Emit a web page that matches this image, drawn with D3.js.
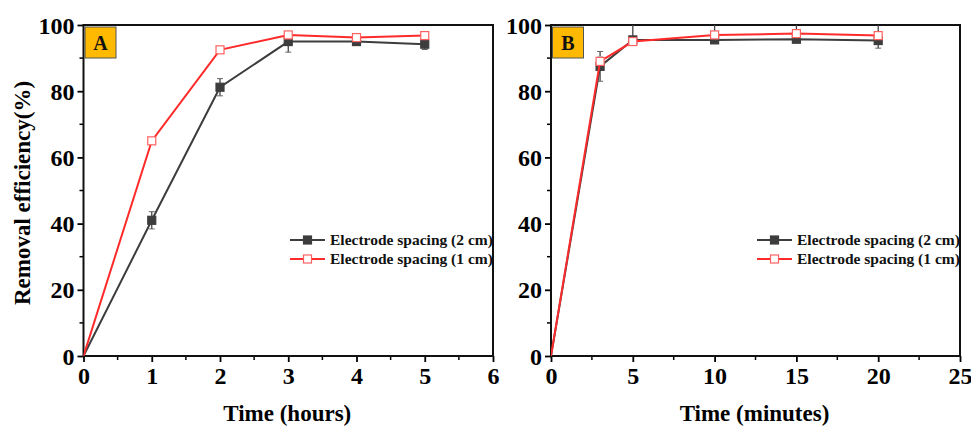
<!DOCTYPE html>
<html><head><meta charset="utf-8">
<script src="https://cdn.jsdelivr.net/npm/d3@7"></script>
<style>body{margin:0;background:#fff}svg{display:block}text{font-family:"Liberation Serif","Times New Roman",serif;font-weight:bold}</style>
</head><body><svg id="c" width="971" height="426"></svg>
<script>
// Panel A (hours)
const hoursX = [0,1,2,3,4,5];
const hours2cm = [0,41,81.2,95,95,94.2];
const hours2cmErrUp = [0,2.6,2.6,1.0,1.0,1.0];
const hours2cmErrDown = [0,2.6,2.6,3.2,1.2,1.6];
const hours1cm = [0,65,92.5,97,96.2,96.8];
const hours1cmErr = [0,0.8,0.8,1.0,0.8,0.8];
// Panel B (minutes)
const minX = [0,3,5,10,15,20];
const min2cm = [0,87.5,95.5,95.5,95.7,95.3];
const min2cmErrUp = [0,4.5,5,5,5,5];
const min2cmErrDown = [0,4.5,1.0,0.8,0.8,2.3];
const min1cm = [0,89,95,97,97.4,96.8];
const min1cmErr = [0,1.5,0.8,0.8,0.8,0.8];
const yTicks = [0,20,40,60,80,100];
const hourTicks = [0,1,2,3,4,5,6];
const minTicks = [0,5,10,15,20,25];
const seriesNames = ["Electrode spacing (2 cm)","Electrode spacing (1 cm)"];
const panelLabels = ["A","B"];

const svg = d3.select("#c");
const C2 = "#3d3d3d", C1 = "#ff2a2a";

function panel(cfg){
  const x = d3.scaleLinear().domain(cfg.xdom).range([cfg.left, cfg.right]);
  const y = d3.scaleLinear().domain([0,100]).range([356,25]);
  const g = svg.append("g");
  const clipId = "clip"+cfg.label;
  svg.append("clipPath").attr("id",clipId).append("rect")
    .attr("x",cfg.left).attr("y",25).attr("width",cfg.right-cfg.left).attr("height",331);
  const xMinor = d3.range(cfg.xdom[0]+cfg.minorStep, cfg.xdom[1], cfg.minorStep*2);
  g.selectAll(".xm").data(xMinor).join("line")
    .attr("x1",d=>x(d)).attr("x2",d=>x(d)).attr("y1",356).attr("y2",360)
    .attr("stroke","#000").attr("stroke-width",1.5);
  g.selectAll(".ym").data(d3.range(10,100,20)).join("line")
    .attr("y1",d=>y(d)).attr("y2",d=>y(d)).attr("x1",cfg.left).attr("x2",cfg.left-4)
    .attr("stroke","#000").attr("stroke-width",1.5);
  const xa = g.append("g").attr("transform","translate(0,356)")
    .call(d3.axisBottom(x).tickValues(cfg.ticks).tickSize(6).tickPadding(5).tickFormat(d3.format("d")));
  const ya = g.append("g").attr("transform",`translate(${cfg.left},0)`)
    .call(d3.axisLeft(y).tickValues(yTicks).tickSize(6).tickPadding(3).tickFormat(d3.format("d")));
  [xa,ya].forEach(a=>{
    a.select(".domain").remove();
    a.selectAll("line").attr("stroke","#000").attr("stroke-width",1.8);
    a.selectAll("text").attr("font-size",24).attr("fill","#000")
      .style("font-family",'"Liberation Serif",serif').style("font-weight","bold");
  });
  ya.selectAll("text").attr("dy","0.34em");
  xa.selectAll("text").attr("dy","0.72em");
  g.append("rect").attr("x",cfg.left).attr("y",25).attr("width",cfg.right-cfg.left).attr("height",331)
    .attr("fill","none").attr("stroke","#111").attr("stroke-width",2);
  const series = [
    {xs:cfg.xs, ys:cfg.s2, eu:cfg.e2u, ed:cfg.e2d, color:C2, filled:true},
    {xs:cfg.xs, ys:cfg.s1, eu:cfg.e1, ed:cfg.e1, color:C1, filled:false}
  ];
  const dg = g.append("g").attr("clip-path",`url(#${clipId})`);
  series.forEach(s=>{
    const pts = s.xs.map((v,i)=>({x:v,y:s.ys[i],u:s.eu[i],d:s.ed[i]}));
    const eg = dg.append("g");
    pts.filter(p=>p.u>0||p.d>0).forEach(p=>{
      const col = s.filled?"#666":"#bbb";
      eg.append("line").attr("x1",x(p.x)).attr("x2",x(p.x)).attr("y1",y(p.y-p.d)).attr("y2",y(p.y+p.u))
        .attr("stroke",s.filled?"#444":"#bbb").attr("stroke-width",s.filled?1.3:1);
      [p.y-p.d,p.y+p.u].forEach(v=>eg.append("line").attr("x1",x(p.x)-3).attr("x2",x(p.x)+3)
        .attr("y1",y(v)).attr("y2",y(v)).attr("stroke",col).attr("stroke-width",1));
    });
  });
  series.forEach(s=>{
    const pts = s.xs.map((v,i)=>({x:v,y:s.ys[i]}));
    dg.append("path").datum(pts).attr("fill","none").attr("stroke",s.color).attr("stroke-width",2)
      .attr("d",d3.line().x(d=>x(d.x)).y(d=>y(d.y)));
    dg.selectAll(null).data(pts.slice(1)).join("rect")
      .attr("x",d=>x(d.x)-4).attr("y",d=>y(d.y)-4).attr("width",8).attr("height",8)
      .attr("fill",s.filled?C2:"#fff").attr("stroke",s.filled?C2:"#ff6060").attr("stroke-width",1.2);
  });
  g.append("rect").attr("x",cfg.left+1.5).attr("y",27).attr("width",31).attr("height",31)
    .attr("fill","#ffb900").attr("stroke","#555").attr("stroke-width",1);
  g.append("text").attr("x",cfg.left+17).attr("y",49.5).attr("text-anchor","middle")
    .attr("font-size",20).attr("fill","#111").text(cfg.label);
  const lg = g.append("g");
  series.forEach((s,i)=>{
    const yy = 240 + i*19;
    lg.append("line").attr("x1",cfg.legX).attr("x2",cfg.legX+35).attr("y1",yy).attr("y2",yy)
      .attr("stroke",s.color).attr("stroke-width",2);
    lg.append("rect").attr("x",cfg.legX+17.5-4).attr("y",yy-4).attr("width",8).attr("height",8)
      .attr("fill",s.filled?C2:"#fff").attr("stroke",s.filled?C2:"#ff6060").attr("stroke-width",1.2);
    lg.append("text").attr("x",cfg.legX+40).attr("y",yy+5).attr("font-size",15.5).attr("fill","#111")
      .text(seriesNames[i]);
  });
  g.append("text").attr("x",(cfg.left+cfg.right)/2-1).attr("y",421).attr("text-anchor","middle")
    .attr("font-size",23).attr("fill","#000").text(cfg.xtitle);
}

panel({label:panelLabels[0], left:83.5, right:493, xdom:[0,6], ticks:hourTicks, minorStep:0.5,
  xs:hoursX, s2:hours2cm, e2u:hours2cmErrUp, e2d:hours2cmErrDown, s1:hours1cm, e1:hours1cmErr, legX:290, xtitle:"Time (hours)"});
panel({label:panelLabels[1], left:551, right:960, xdom:[0,25], ticks:minTicks, minorStep:2.5,
  xs:minX, s2:min2cm, e2u:min2cmErrUp, e2d:min2cmErrDown, s1:min1cm, e1:min1cmErr, legX:757, xtitle:"Time (minutes)"});

svg.append("text").attr("transform","translate(30,193) rotate(-90)").attr("text-anchor","middle")
  .attr("font-size",23).attr("fill","#000").text("Removal efficiency(%)");
</script></body></html>
